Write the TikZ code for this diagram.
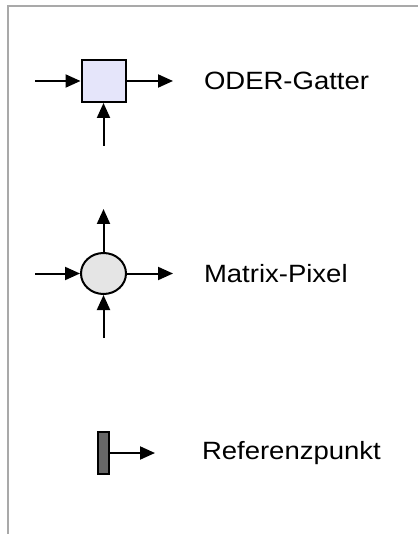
\documentclass[tikz,border=0pt]{standalone}
\usepackage[svgnames]{xcolor}
\usepackage{fontspec}
\setmainfont{Liberation Sans}[FakeStretch=1.1]
\usepackage{tikz}
\usetikzlibrary{arrows.meta,shapes.geometric}

\begin{document}
\begin{tikzpicture}[x=1pt, y=-1pt, line width=2pt,
    conn/.style={-{Triangle[length=15pt,width=13pt]}},
    legendtext/.style={anchor=west, inner sep=0pt, font=\fontsize{25}{30}\selectfont}]
   \useasboundingbox (0,0) rectangle (417,534);
   \draw[color=DarkGray] (420,6) -- (8,6) -- (8,540);
   % ODER-Gatter
   \node[draw, fill=Lavender, minimum width=44pt, minimum height=42pt, inner sep=0pt] (gate) at (103.5,81) {};
   \coordinate (gatein) at (35,81);
   \coordinate (gateout) at (173,81);
   \coordinate (gatebot) at (103.5,146);
   \draw[conn] (gatein) -- (gate.west);
   \draw[conn] (gate.east) -- (gateout);
   \draw[conn] (gatebot) -- (gate.south);
   \node[legendtext] (gatelabel) at (203,81) {ODER-Gatter};
   % Matrix-Pixel
   \node[draw, ellipse, fill=gray!20, minimum width=45pt, minimum height=41pt, inner sep=0pt] (pixel) at (103.5,273.5) {};
   \coordinate (pixelin) at (35,273.5);
   \coordinate (pixelout) at (173,273.5);
   \coordinate (pixeltop) at (103.5,209);
   \coordinate (pixelbot) at (103.5,338);
   \draw[conn] (pixelin) -- (pixel.west);
   \draw[conn] (pixel.east) -- (pixelout);
   \draw[conn] (pixel.north) -- (pixeltop);
   \draw[conn] (pixelbot) -- (pixel.south);
   \node[legendtext] (pixellabel) at (203,273.5) {Matrix-Pixel};
   % Referenzpunkt
   \node[draw, fill=black!60, minimum width=11pt, minimum height=42pt, inner sep=0pt] (ref) at (103.5,453) {};
   \coordinate (refout) at (155,453);
   \draw[conn] (ref.east) -- (refout);
   \node[legendtext] (reflabel) at (201,453) {Referenzpunkt};
\end{tikzpicture}
\end{document}
